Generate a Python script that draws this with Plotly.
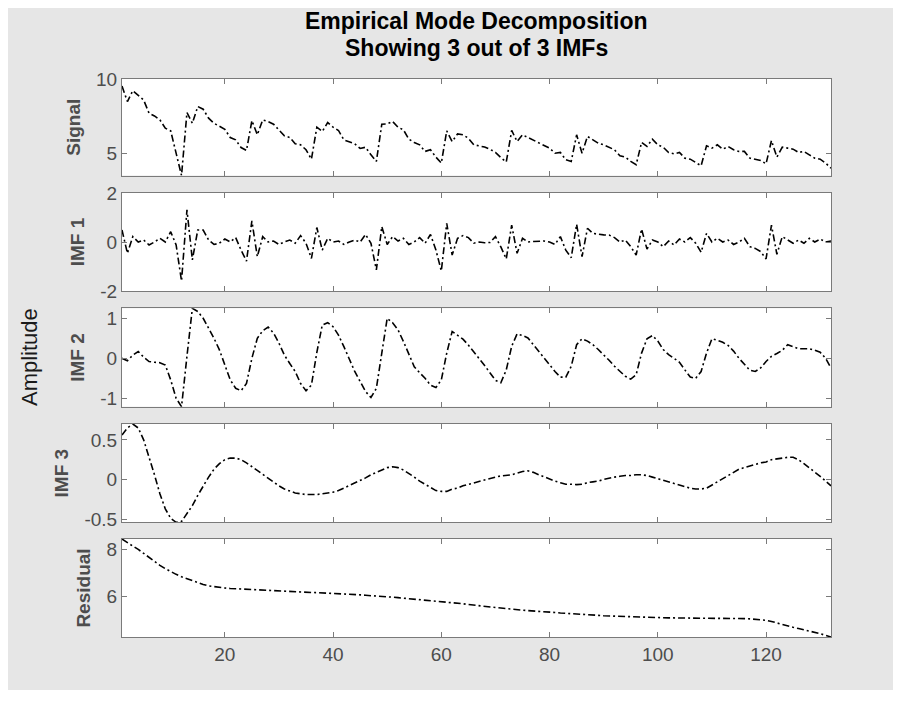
import plotly.graph_objects as go

# ---------------- data ----------------
t = list(range(1, 133))

signal = [9.53, 8.49, 9.22, 8.93, 8.60, 7.71, 7.53, 7.27, 6.71, 6.53, 5.04, 3.55,
          7.76, 7.04, 8.16, 7.98, 7.38, 7.04, 6.84, 6.64, 6.09, 5.93, 5.42, 5.22,
          7.22, 6.27, 7.27, 7.16, 6.98, 6.60, 6.20, 6.09, 5.67, 5.60, 5.27, 4.64,
          6.78, 6.49, 7.09, 6.78, 6.56, 5.93, 5.78, 5.67, 5.36, 5.44, 4.93, 4.49,
          6.98, 7.00, 7.16, 6.78, 6.60, 5.98, 5.76, 5.60, 5.16, 5.27, 4.78, 4.38,
          6.53, 5.82, 6.33, 6.27, 6.04, 5.60, 5.53, 5.45, 5.30, 5.10, 4.75, 4.45,
          6.56, 5.82, 6.27, 6.09, 5.93, 5.76, 5.60, 5.38, 5.04, 5.09, 4.60, 4.49,
          6.27, 5.04, 6.16, 5.93, 5.71, 5.60, 5.44, 5.27, 4.87, 4.78, 4.49, 4.27,
          5.76, 5.49, 5.98, 5.60, 5.44, 5.09, 5.00, 5.09, 4.71, 4.64, 4.42, 4.20,
          5.53, 5.38, 5.60, 5.31, 5.49, 5.27, 5.16, 5.16, 4.71, 4.64, 4.56, 4.33,
          5.89, 4.78, 5.44, 5.38, 5.31, 5.09, 5.16, 4.93, 4.71, 4.64, 4.38, 4.04]

imf1 = [0.49, -0.46, 0.22, 0.00, 0.08, -0.12, 0.00, 0.15, 0.00, 0.42, -0.12, -1.59,
        1.31, -0.73, 0.49, 0.49, 0.08, -0.10, -0.05, 0.12, 0.00, 0.18, -0.33, -0.78,
        0.86, -0.60, 0.22, 0.00, 0.04, -0.10, 0.00, 0.08, -0.05, 0.26, -0.05, -0.67,
        0.59, -0.33, 0.15, 0.00, 0.04, -0.10, 0.00, 0.08, 0.00, 0.31, -0.05, -1.14,
        0.63, -0.10, 0.22, 0.04, 0.15, -0.10, 0.00, 0.18, -0.05, 0.31, -0.33, -1.18,
        0.76, -0.53, 0.15, 0.26, 0.18, -0.05, 0.00, -0.03, -0.02, 0.22, -0.20, -0.69,
        0.69, -0.46, 0.15, 0.00, 0.02, 0.02, 0.04, 0.00, -0.10, 0.22, -0.33, -0.64,
        0.72, -0.60, 0.56, 0.35, 0.31, 0.29, 0.28, 0.18, 0.00, 0.08, -0.19, -0.53,
        0.53, -0.29, 0.08, 0.00, -0.19, 0.04, -0.12, 0.12, 0.00, 0.18, -0.05, -0.42,
        0.35, 0.00, 0.15, 0.00, 0.08, -0.10, 0.00, 0.15, -0.19, -0.26, -0.39, -0.69,
        0.69, -0.50, 0.22, 0.08, -0.05, 0.08, -0.05, 0.15, 0.00, 0.12, 0.00, 0.04]

imf2 = [0.00, -0.06, 0.08, 0.17, 0.03, -0.08, -0.10, -0.11, -0.17, -0.54, -1.00, -1.21,
        0.05, 1.25, 1.17, 1.00, 0.75, 0.50, 0.21, -0.17, -0.54, -0.75, -0.81, -0.63,
        0.00, 0.50, 0.69, 0.78, 0.63, 0.38, 0.08, -0.13, -0.33, -0.63, -0.81, -0.67,
        0.15, 0.83, 0.89, 0.79, 0.58, 0.29, -0.04, -0.33, -0.58, -0.83, -0.98, -0.75,
        0.13, 1.00, 0.89, 0.71, 0.42, 0.08, -0.21, -0.36, -0.50, -0.67, -0.73, -0.54,
        0.13, 0.67, 0.58, 0.48, 0.33, 0.17, -0.01, -0.18, -0.35, -0.55, -0.61, -0.29,
        0.30, 0.61, 0.57, 0.51, 0.34, 0.18, 0.00, -0.16, -0.33, -0.47, -0.47, -0.20,
        0.34, 0.49, 0.43, 0.34, 0.22, 0.09, -0.05, -0.20, -0.33, -0.45, -0.52, -0.41,
        0.13, 0.49, 0.57, 0.43, 0.22, 0.09, 0.00, -0.10, -0.29, -0.47, -0.50, -0.33,
        0.13, 0.49, 0.45, 0.40, 0.32, 0.18, 0.00, -0.16, -0.30, -0.33, -0.24, -0.08,
        0.05, 0.12, 0.20, 0.34, 0.29, 0.24, 0.24, 0.24, 0.20, 0.15, 0.00, -0.24]

imf3 = [0.56, 0.65, 0.70, 0.65, 0.50, 0.29, 0.06, -0.18, -0.37, -0.49, -0.54, -0.53,
        -0.43, -0.33, -0.20, -0.08, 0.03, 0.13, 0.20, 0.25, 0.27, 0.27, 0.25, 0.21,
        0.16, 0.11, 0.06, 0.01, -0.04, -0.08, -0.12, -0.15, -0.17, -0.18, -0.19, -0.19,
        -0.19, -0.18, -0.17, -0.16, -0.14, -0.11, -0.07, -0.04, -0.01, 0.02, 0.06, 0.09,
        0.12, 0.15, 0.16, 0.15, 0.12, 0.08, 0.03, -0.02, -0.06, -0.11, -0.14, -0.15,
        -0.15, -0.12, -0.11, -0.08, -0.06, -0.04, -0.02, 0.00, 0.015, 0.03, 0.045, 0.055,
        0.06, 0.08, 0.10, 0.11, 0.09, 0.06, 0.03, 0.01, -0.02, -0.04, -0.06, -0.06,
        -0.065, -0.06, -0.04, -0.03, -0.02, 0.00, 0.02, 0.03, 0.04, 0.05, 0.05, 0.06,
        0.06, 0.05, 0.03, 0.01, -0.01, -0.03, -0.05, -0.07, -0.09, -0.11, -0.12, -0.12,
        -0.11, -0.07, -0.03, 0.01, 0.06, 0.10, 0.13, 0.15, 0.17, 0.19, 0.21, 0.22,
        0.25, 0.26, 0.27, 0.28, 0.28, 0.25, 0.20, 0.15, 0.10, 0.04, -0.02, -0.08]

residual = [8.43, 8.27, 8.13, 7.99, 7.82, 7.65, 7.47, 7.31, 7.17, 7.04, 6.93, 6.83,
            6.74, 6.65, 6.57, 6.50, 6.44, 6.40, 6.37, 6.35, 6.33, 6.32, 6.31, 6.30,
            6.29, 6.28, 6.27, 6.26, 6.24, 6.23, 6.22, 6.21, 6.20, 6.19, 6.18, 6.17,
            6.16, 6.14, 6.13, 6.12, 6.11, 6.10, 6.09, 6.07, 6.06, 6.04, 6.03, 6.01,
            6.00, 5.98, 5.96, 5.94, 5.92, 5.90, 5.88, 5.86, 5.85, 5.83, 5.81, 5.79,
            5.77, 5.74, 5.71, 5.68, 5.65, 5.62, 5.58, 5.56, 5.54, 5.52, 5.50, 5.47,
            5.45, 5.43, 5.41, 5.39, 5.38, 5.36, 5.34, 5.33, 5.31, 5.29, 5.28, 5.26,
            5.24, 5.23, 5.21, 5.20, 5.19, 5.17, 5.16, 5.15, 5.14, 5.13, 5.12, 5.11,
            5.10, 5.09, 5.09, 5.08, 5.08, 5.08, 5.08, 5.08, 5.08, 5.08, 5.08, 5.08,
            5.08, 5.08, 5.07, 5.07, 5.07, 5.06, 5.06, 5.05, 5.04, 5.03, 5.01, 4.98,
            4.93, 4.86, 4.80, 4.74, 4.68, 4.63, 4.58, 4.53, 4.48, 4.41, 4.34, 4.27]

panel_names = ["Signal", "IMF 1", "IMF 2", "IMF 3", "Residual"]
series = [signal, imf1, imf2, imf3, residual]
y_tickvals = [[5, 10], [-2, 0, 2], [-1, 0, 1], [-0.5, 0, 0.5], [6, 8]]
y_ticktext = [["5", "10"], ["-2", "0", "2"], ["-1", "0", "1"], ["-0.5", "0", "0.5"], ["6", "8"]]
x_tickvals = [20, 40, 60, 80, 100, 120]

# ---------------- layout geometry (pixels, screenshot coordinates) ----------------
OFF = 8                      # page body margin in the browser
W, H = 885, 682              # figure size (grey area of the reference)
PL, PR, PT, PB = 122, 831, 79, 637   # plot area edges in screenshot px
L, R, T, B = PL - OFF, OFF + W - PR, PT - OFF, OFF + H - PB
panel_px = [(79, 175.5), (193, 291), (308.3, 406.7), (424, 522.3), (539, 637)]
plot_h = PB - PT
plot_w = PR - PL

def py2paper(py):
    return (PB - py) / plot_h

def px2paper(px):
    return (px - PL) / plot_w

FONT = "Liberation Sans, Arial, Helvetica, sans-serif"
AXC = "#7a7a7a"
TXC = "#4d4d4d"

# y ranges: signal and IMF1 fixed, others tight to data
y_ranges = [[3.55, 10], [-2, 2],
            [min(imf2), max(imf2)], [min(imf3), max(imf3)], [min(residual), max(residual)]]

fig = go.Figure()
layout = dict(
    width=W, height=H,
    margin=dict(l=L, r=R, t=T, b=B, pad=0),
    paper_bgcolor="#e6e6e6",
    plot_bgcolor="white",
    showlegend=False,
    font=dict(family=FONT, color=TXC),
)

for k, (name, vals) in enumerate(zip(panel_names, series)):
    n = k + 1
    xa = "x" if n == 1 else f"x{n}"
    ya = "y" if n == 1 else f"y{n}"
    fig.add_trace(go.Scatter(
        x=t, y=vals, mode="lines", xaxis=xa, yaxis=ya,
        line=dict(color="black", width=1.6, dash="7px,3px,2px,3px"),
        hoverinfo="skip",
    ))
    top, bot = panel_px[k]
    xkey = "xaxis" if n == 1 else f"xaxis{n}"
    ykey = "yaxis" if n == 1 else f"yaxis{n}"
    layout[xkey] = dict(
        domain=[0, 1], anchor=ya, range=[1, 132],
        tickvals=x_tickvals, ticktext=[str(v) for v in x_tickvals],
        showticklabels=(n == 5),
        ticks="inside", ticklen=5, tickcolor=AXC, tickwidth=1,
        showline=True, linecolor=AXC, linewidth=1, mirror="ticks",
        showgrid=False, zeroline=False,
        tickfont=dict(family=FONT, size=19, color=TXC),
    )
    layout[ykey] = dict(
        domain=[py2paper(bot), py2paper(top)], anchor=xa,
        range=y_ranges[k],
        tickvals=y_tickvals[k], ticktext=y_ticktext[k],
        ticks="inside", ticklen=5, tickcolor=AXC, tickwidth=1,
        showline=True, linecolor=AXC, linewidth=1, mirror="ticks",
        showgrid=False, zeroline=False,
        tickfont=dict(family=FONT, size=19, color=TXC),
        title=dict(text=f"<b>{name}</b>", font=dict(family=FONT, size=19, color=TXC), standoff=10),
    )

layout["annotations"] = [
    dict(text="<b>Empirical Mode Decomposition</b>", xref="paper", yref="paper",
         x=px2paper(476), y=py2paper(21), showarrow=False, xanchor="center", yanchor="middle",
         font=dict(family=FONT, size=23, color="black")),
    dict(text="<b>Showing 3 out of 3 IMFs</b>", xref="paper", yref="paper",
         x=px2paper(476), y=py2paper(48), showarrow=False, xanchor="center", yanchor="middle",
         font=dict(family=FONT, size=23, color="black")),
    dict(text="Amplitude", xref="paper", yref="paper",
         x=px2paper(29), y=py2paper(357), showarrow=False, xanchor="center", yanchor="middle",
         textangle=-90, font=dict(family=FONT, size=22, color="#1a1a1a")),
]

fig.update_layout(**layout)
fig.write_html("out.html")
